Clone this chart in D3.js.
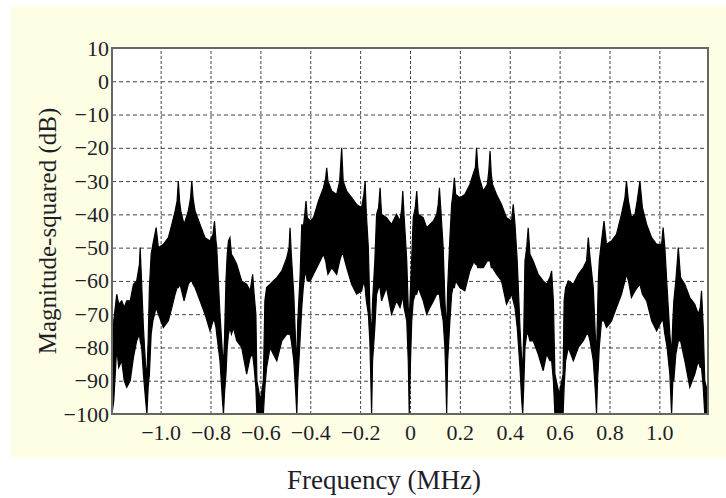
<!DOCTYPE html>
<html><head><meta charset="utf-8">
<script src="https://cdn.jsdelivr.net/npm/d3@7/dist/d3.min.js"></script>
<style>body{margin:0;background:#fff}svg{display:block}</style></head>
<body><svg id="c" width="726" height="498"></svg>
<script>
// ---- data (frequency in MHz, envelope in dB) ----
const freqMHz = [
  // left tail
  -1.195,-1.188,-1.176,-1.168,-1.156,-1.146,-1.136,-1.122,-1.109,-1.096,-1.085,-1.082,-1.076,-1.069,-1.060,-1.055,-1.050,
  // lobe around -0.9
  -1.045,-1.038,-1.031,-1.018,-1.009,-0.989,-0.969,-0.955,-0.942,-0.934,-0.929,-0.924,-0.919,-0.906,-0.889,-0.880,-0.875,-0.870,-0.862,-0.842,-0.822,-0.802,-0.790,-0.784,-0.778,-0.775,-0.762,-0.752,-0.748,-0.744,
  // lobe around -0.68
  -0.738,-0.733,-0.728,-0.722,-0.716,-0.708,-0.695,-0.675,-0.655,-0.641,-0.631,-0.625,-0.618,-0.614,-0.600,-0.588,
  // lobe around -0.52
  -0.582,-0.575,-0.561,-0.548,-0.534,-0.514,-0.494,-0.485,-0.481,-0.476,-0.466,-0.458,-0.454,-0.450,
  // main lobe around -0.3
  -0.441,-0.434,-0.428,-0.422,-0.417,-0.412,-0.400,-0.387,-0.367,-0.347,-0.338,-0.334,-0.329,-0.314,-0.294,-0.282,-0.274,-0.268,-0.254,-0.234,-0.214,-0.194,-0.185,-0.180,-0.175,-0.167,-0.161,-0.157,-0.154,-0.150,
  // lobe around -0.07
  -0.141,-0.134,-0.126,-0.120,-0.114,-0.094,-0.074,-0.054,-0.040,-0.033,-0.029,-0.024,-0.013,-0.007,-0.003,0.002,
  // lobe around 0.07
  0.007,0.013,0.021,0.027,0.033,0.053,0.067,0.080,0.094,0.107,0.113,0.118,0.124,0.133,0.140,0.144,0.147,0.151,
  // main lobe around 0.3
  0.160,0.167,0.172,0.178,0.183,0.200,0.220,0.240,0.257,0.262,0.267,0.272,0.278,0.294,0.310,0.316,0.321,0.326,0.331,0.347,0.367,0.387,0.407,0.414,0.421,0.430,0.441,0.448,0.452,0.456,
  // lobe around 0.52
  0.461,0.468,0.474,0.481,0.494,0.514,0.534,0.548,0.561,0.568,0.575,0.581,0.598,0.614,
  // lobe around 0.68
  0.618,0.624,0.635,0.655,0.675,0.695,0.708,0.715,0.722,0.735,0.744,0.748,0.752,
  // lobe around 0.9
  0.755,0.759,0.768,0.778,0.788,0.808,0.828,0.848,0.862,0.868,0.876,0.888,0.902,0.911,0.922,0.932,0.949,0.969,0.989,1.009,1.015,1.022,1.031,1.042,1.049,1.054,
  // right tail
  1.058,1.066,1.076,1.085,1.102,1.122,1.142,1.156,1.164,1.169,1.176,1.182,1.195
];
const upperDb = [
  -92,-72,-64,-67,-66,-68,-66,-66,-61,-60,-55,-50,-61,-74,-86,-88,-78,
  -62,-52,-49,-44,-50,-49,-47,-43,-39,-36,-30,-36,-39,-43,-39,-35,-30,-35,-39,-43,-47,-48,-46,-42,-48,-50,-70,-82,-85,-78,
  -60,-52,-48,-47,-52,-53,-55,-60,-61,-63,-58,-64,-70,-90,-96,-90,
  -66,-62,-61,-60,-59,-57,-53,-50,-44,-52,-64,-80,-84,-72,
  -59,-43,-44,-40,-36,-41,-42,-41,-36,-32,-29,-26,-30,-33,-34,-30,-20,-30,-33,-35,-37,-38,-34,-30,-40,-50,-68,-74,-76,-66,
  -54,-40,-38,-32,-40,-41,-43,-40,-42,-38,-33,-40,-54,-68,-72,-62,
  -53,-41,-38,-33,-40,-41,-44,-43,-42,-40,-37,-32,-39,-50,-66,-72,-74,-62,
  -47,-37,-34,-29,-34,-35,-34,-31,-27,-26,-20,-26,-29,-33,-31,-27,-21,-28,-31,-34,-37,-41,-42,-37,-43,-54,-74,-84,-86,-76,
  -54,-50,-44,-52,-54,-58,-60,-61,-59,-57,-66,-88,-94,-88,
  -66,-62,-60,-61,-58,-56,-54,-47,-53,-62,-78,-82,-70,
  -60,-54,-48,-42,-49,-48,-46,-40,-35,-30,-36,-41,-40,-36,-30,-38,-43,-47,-49,-49,-44,-50,-62,-76,-82,-72,
  -66,-60,-50,-59,-61,-65,-67,-70,-68,-63,-74,-90,-94
];
const lowerDb = [
  -100,-96,-80,-86,-84,-90,-92,-90,-83,-78,-76,-78,-80,-88,-96,-100,-92,
  -88,-76,-72,-68,-70,-74,-72,-68,-64,-62,-62,-61,-62,-66,-61,-60,-60,-61,-62,-66,-70,-75,-72,-72,-74,-76,-84,-96,-100,-94,
  -88,-80,-76,-74,-76,-74,-78,-80,-88,-83,-82,-86,-92,-100,-100,-100,
  -92,-86,-80,-82,-84,-78,-76,-76,-76,-78,-84,-94,-100,-90,
  -78,-68,-62,-58,-58,-60,-60,-58,-55,-52,-54,-56,-58,-56,-58,-54,-52,-52,-56,-61,-64,-63,-60,-62,-66,-70,-78,-90,-100,-84,
  -74,-64,-62,-62,-66,-62,-70,-66,-68,-66,-64,-68,-72,-84,-100,-84,
  -72,-66,-64,-64,-62,-66,-70,-68,-66,-64,-64,-64,-68,-72,-80,-90,-100,-84,
  -72,-64,-62,-62,-60,-62,-63,-57,-54,-55,-55,-56,-56,-56,-54,-54,-54,-56,-56,-58,-60,-67,-64,-66,-68,-74,-86,-96,-100,-92,
  -80,-76,-76,-78,-78,-82,-87,-82,-84,-84,-90,-100,-100,-100,
  -92,-84,-80,-84,-80,-78,-76,-76,-78,-84,-94,-100,-90,
  -86,-80,-72,-72,-74,-72,-68,-64,-60,-58,-60,-65,-63,-62,-61,-64,-66,-72,-75,-72,-72,-76,-80,-88,-100,-90,
  -90,-82,-78,-78,-84,-92,-88,-84,-86,-86,-92,-100,-100
];
const xTickValues = [-1.0,-0.8,-0.6,-0.4,-0.2,0,0.2,0.4,0.6,0.8,1.0];
const xTickLabels = ["\u22121.0","\u22120.8","\u22120.6","\u22120.4","\u22120.2","0","0.2","0.4","0.6","0.8","1.0"];
const yTickValues = [10,0,-10,-20,-30,-40,-50,-60,-70,-80,-90,-100];
const yTickLabels = ["10","0","\u221210","\u221220","\u221230","\u221240","\u221250","\u221260","\u221270","\u221280","\u221290","\u2212100"];
const xLabel = "Frequency (MHz)";
const yLabel = "Magnitude-squared (dB)";

// ---- layout ----
const L = 112, R = 708, T = 48, B = 414;
const svg = d3.select("#c");
const font = "'Liberation Serif','Times New Roman',serif";
const textColor = "#1e1e2a";

svg.append("rect").attr("x",11).attr("y",7).attr("width",715).attr("height",450).attr("fill","#fefee4");

const x = d3.scaleLinear().domain([-1.195,1.195]).range([L,R]);
const y = d3.scaleLinear().domain([-100,10]).range([B,T]);

svg.append("rect").attr("x",L).attr("y",T).attr("width",R-L).attr("height",B-T).attr("fill","#fff");

// grid
const gx = svg.append("g").attr("transform",`translate(0,${B})`)
  .call(d3.axisBottom(x).tickValues(xTickValues).tickSize(-(B-T)).tickFormat(""));
gx.select(".domain").remove();
gx.selectAll("line").attr("stroke","#444").attr("stroke-width",1).attr("stroke-dasharray","3,2");
const gy = svg.append("g").attr("transform",`translate(${L},0)`)
  .call(d3.axisLeft(y).tickValues(yTickValues.filter(v=>v<10 && v>-100)).tickSize(-(R-L)).tickFormat(""));
gy.select(".domain").remove();
gy.selectAll("line").attr("stroke","#444").attr("stroke-width",1).attr("stroke-dasharray","4,3");

// signal
svg.append("clipPath").attr("id","pc").append("rect").attr("x",L).attr("y",T).attr("width",R-L).attr("height",B-T);
const pts = freqMHz.map((f,i)=>({f, hi: upperDb[i], lo: lowerDb[i]}));
const area = d3.area().x(d=>x(d.f)).y0(d=>y(d.lo)).y1(d=>y(d.hi));
svg.append("path").datum(pts).attr("clip-path","url(#pc)")
  .attr("d",area).attr("fill","#000").attr("stroke","#000").attr("stroke-width",1.2).attr("stroke-linejoin","miter");

// border
svg.append("rect").attr("x",L).attr("y",T).attr("width",R-L).attr("height",B-T)
  .attr("fill","none").attr("stroke","#666").attr("stroke-width",2);

// tick labels
const ax = svg.append("g").attr("transform",`translate(0,${B})`)
  .call(d3.axisBottom(x).tickValues(xTickValues).tickSize(0).tickPadding(0).tickFormat((d,i)=>xTickLabels[i]));
ax.select(".domain").remove();
ax.selectAll("text").attr("font-family",font).attr("font-size",22).attr("fill",textColor).attr("dy","1.2em");
const ay = svg.append("g").attr("transform",`translate(${L},0)`)
  .call(d3.axisLeft(y).tickValues(yTickValues).tickSize(0).tickPadding(3).tickFormat((d,i)=>yTickLabels[i]));
ay.select(".domain").remove();
ay.selectAll("text").attr("font-family",font).attr("font-size",22).attr("fill",textColor);

// axis titles
svg.append("text").attr("x",384).attr("y",489).attr("text-anchor","middle")
  .attr("font-family",font).attr("font-size",27).attr("fill",textColor).text(xLabel);
svg.append("text").attr("transform",`translate(56,${(T+B)/2}) rotate(-90)`).attr("text-anchor","middle")
  .attr("font-family",font).attr("font-size",25).attr("fill",textColor).text(yLabel);
</script></body></html>
